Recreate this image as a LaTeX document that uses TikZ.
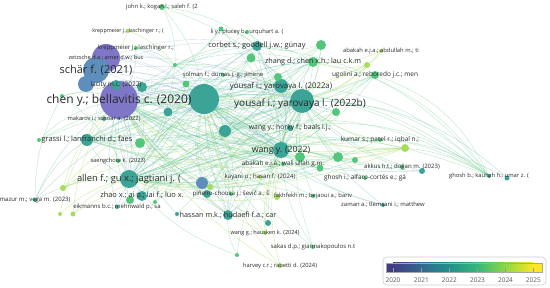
\documentclass[tikz,border=0pt]{standalone}
\usepackage{fontspec}
\setmainfont{Open Sans}
\pgfdeclarelayer{bgzero}
\pgfdeclarelayer{edges}
\pgfsetlayers{bgzero,edges,main}
\definecolor{cP}{HTML}{7E76C6}
\definecolor{cB}{HTML}{5E8FBC}
\definecolor{cT}{HTML}{3BA497}
\definecolor{cTG}{HTML}{3DB58B}
\definecolor{cG}{HTML}{52C77C}
\definecolor{cY}{HTML}{A6DD5C}
\definecolor{labc}{HTML}{2A2A2A}
\definecolor{vA}{HTML}{413D85}
\definecolor{vB}{HTML}{31688E}
\definecolor{vC}{HTML}{21918C}
\definecolor{vD}{HTML}{35B779}
\definecolor{vE}{HTML}{90D743}
\definecolor{vF}{HTML}{FDE725}
\tikzset{
  vn/.style={circle, inner sep=0pt, draw=none},
  lbl/.style={inner sep=0pt, text=labc, font=\fontsize{#1}{#1}\selectfont},
  eT/.style={draw=cT, opacity=.33, line width=.4pt},
  eG/.style={draw=cG, opacity=.38, line width=.4pt},
  eY/.style={draw=cY, opacity=.5, line width=.4pt},
  eB/.style={draw=cB, opacity=.28, line width=.4pt},
  legtxt/.style={inner sep=0pt, text=black!65, font=\fontsize{6.5}{6.5}\selectfont}
}
\newcommand\mkdot[5]{\node[vn, fill=#5, minimum size=#4pt] (#1) at (#2,#3) {};}
\newcommand\mklab[3]{\node[lbl=#2] (#1-l) at (#1) {#3};}
\begin{document}
\begin{tikzpicture}[x=1pt,y=-1pt]
\begin{pgfonlayer}{bgzero}
\fill[white] (0,0) rectangle (550,288);
\end{pgfonlayer}
\useasboundingbox (0,0) rectangle (550,288);
% ---------- nodes (circles) ----------
\mkdot{bigt}{204}{99}{30}{cT}
\mkdot{chen}{119}{100}{38}{cP}
\mkdot{zet}{106}{58}{28}{cP}
\mkdot{schar}{96}{70}{26}{cB}
\mkdot{bl1}{86}{84}{16}{cB}
\mkdot{lac}{116}{85}{10}{cT}
\mkdot{t142}{142}{87}{10}{cT}
\mkdot{yb}{302}{101}{24}{cT}
\mkdot{ya}{281}{86}{14}{cT}
\mkdot{g278}{278}{77}{8}{cG}
\mkdot{wy}{281}{150}{16}{cT}
\mkdot{hk}{290}{128}{6}{cT}
\mkdot{t225}{225}{131}{12}{cT}
\mkdot{al}{129}{179}{18}{cT}
\mkdot{gr}{87}{140}{12}{cT}
\mkdot{g140}{140}{143}{10}{cG}
\mkdot{cb}{257}{46}{10}{cT}
\mkdot{g321}{321}{45}{10}{cG}
\mkdot{zh}{313}{62}{10}{cG}
\mkdot{g251}{251}{58}{9}{cG}
\mkdot{jo}{162}{7}{6}{cG}
\mkdot{li}{247}{32}{4}{cG}
\mkdot{g221}{221}{29}{5}{cG}
\mkdot{kr1}{128}{31}{4}{cY}
\mkdot{kr2}{136}{48}{4}{cG}
\mkdot{ab1}{381}{51}{4}{cY}
\mkdot{g367}{367}{65}{6}{cY}
\mkdot{ug}{375}{75}{8}{cG}
\mkdot{so}{223}{75}{4}{cG}
\mkdot{mk}{104}{119}{4}{cT}
\mkdot{sa}{118}{161}{4}{cG}
\mkdot{zo}{142}{196}{10}{cT}
\mkdot{g130}{130}{200}{8}{cG}
\mkdot{mz}{35}{200}{4}{cT}
\mkdot{ei}{117}{207}{4}{cT}
\mkdot{ha}{228}{215}{10}{cT}
\mkdot{t268}{268}{223}{6}{cT}
\mkdot{pi}{231}{194}{4}{cG}
\mkdot{t207}{207}{194}{8}{cT}
\mkdot{fa}{313}{196}{4}{cG}
\mkdot{y277}{277}{197}{6}{cY}
\mkdot{za}{383}{205}{4}{cT}
\mkdot{wg}{265}{233}{4}{cY}
\mkdot{sk}{313}{247}{4}{cG}
\mkdot{hv}{280}{266}{4}{cY}
\mkdot{ku}{380}{140}{4}{cG}
\mkdot{y405}{405}{148}{8}{cY}
\mkdot{gi}{365}{178}{4}{cG}
\mkdot{ak}{402}{167}{4}{cG}
\mkdot{t422}{422}{171}{6}{cT}
\mkdot{gb}{489}{176}{4}{cT}
\mkdot{t507}{507}{178}{5}{cT}
\mkdot{aw}{283}{164}{4}{cG}
\mkdot{ka}{260}{177}{4}{cY}
\mkdot{b202}{202}{183}{12}{cB}
\mkdot{y210}{210}{187}{6}{cY}
\mkdot{hub}{175}{65}{4}{cG}
\mkdot{g62}{62}{96}{4}{cG}
\mkdot{y63}{63}{188}{6}{cY}
\mkdot{g39}{39}{140}{4}{cG}
\mkdot{y60}{60}{214}{4}{cY}
\mkdot{y73}{73}{214}{5}{cY}
\mkdot{g155}{155}{202}{4}{cG}
\mkdot{t177}{177}{214}{4}{cT}
\mkdot{g237}{237}{255}{4}{cG}
\mkdot{g300}{300}{157}{10}{cG}
\mkdot{g338}{338}{157}{10}{cG}
\mkdot{g355}{355}{160}{6}{cG}
\mkdot{g320}{320}{168}{7}{cG}
\mkdot{g336}{336}{112}{8}{cG}
\mkdot{t170}{168}{112}{9}{cT}
\mkdot{g185}{186}{84}{7}{cG}
% ---------- edges ----------
\begin{pgfonlayer}{edges}
\foreach \s/\ts in {chen/{bigt,yb,ya,wy,hk,t225,al,gr,cb,zh,ha,lac,t142,g336,t170,g185},
  schar/{bigt,yb,wy,al,gr,cb,t170,hk},
  zet/{bigt,yb,hub,cb,g185},
  bl1/{bigt,al,wy,t225}}
  \foreach \t in \ts \draw[eB] (\s) to[bend left=14] (\t);
\foreach \s/\ts in {bigt/{yb,ya,wy,hk,t225,al,gr,cb,zh,ha,g336,t170},
  yb/{ya,wy,hk,t225,al,gr,cb,zh,ha,t170,g185},
  ya/{wy,hk,al,cb,zh,t170},
  wy/{hk,t225,al,gr,ha,zh,t170,g185},
  hk/{al,t225,cb,gr},
  t225/{al,ha,cb,zh},
  al/{gr,ha,zo,cb},
  gr/{ha,t170},
  cb/{zh},
  t170/{al,ha,zh,cb},
  lac/{yb,wy,al},
  t142/{yb,wy,al,bigt},
  mk/{yb,wy,bigt},
  ei/{chen,bigt,wy},
  t207/{chen,bigt,yb,wy},
  t268/{bigt,chen,yb},
  t177/{chen,wy},
  za/{yb,wy,bigt},
  t422/{bigt,yb,chen},
  mz/{chen,al,gr,g62,bigt},
  b202/{chen,bigt,yb,wy}}
  \foreach \t in \ts \draw[eT] (\s) to[bend left=14] (\t);
\foreach \s/\ts in {chen/{bigt,yb,wy,al,ha,zh},
  bigt/{yb,wy,al,gr,ha},
  yb/{wy,al,gr,ha,t225},
  wy/{al,gr,cb}}
  \foreach \t in \ts \draw[eT] (\s) to[bend right=9] (\t);
\foreach \s/\ts in {g278/{chen,bigt,yb,wy,al},
  g140/{chen,bigt,yb,wy,hk},
  g321/{chen,bigt,yb,wy,cb,al},
  zh/{al,hk,gr},
  g251/{chen,yb,wy,al,gr},
  jo/{hub,cb,bigt,yb},
  g221/{hub,chen,cb,wy},
  li/{hub,cb,yb},
  kr2/{hub,chen,bigt},
  hub/{chen,bigt,yb,wy,al,gr,cb,zh,ya},
  ug/{yb,wy,bigt,chen,al,gr},
  so/{chen,bigt,yb},
  sa/{chen,al,wy},
  g130/{chen,bigt,wy,yb,al},
  zo/{bigt,yb,wy},
  g62/{chen,bigt,al},
  g39/{chen,gr,bigt,yb},
  g155/{bigt,wy,yb},
  g237/{ha,wy,al},
  g300/{chen,bigt,al,yb},
  g338/{chen,bigt,al,yb,gr},
  g355/{bigt,chen,yb,al},
  g320/{bigt,al,chen},
  g336/{yb,al,gr,wy},
  g185/{al,ha,gr},
  gi/{chen,bigt,yb},
  ku/{chen,bigt,al,yb},
  ak/{bigt,wy,yb},
  fa/{bigt,yb,chen},
  sk/{bigt,yb,wy},
  aw/{chen,bigt,al},
  pi/{chen,bigt,yb}}
  \foreach \t in \ts \draw[eG] (\s) to[bend left=14] (\t);
\foreach \s/\ts in {kr1/{hub,zet},
  g367/{yb,wy,zh,bigt,chen},
  ab1/{yb,zh,g367},
  y63/{chen,al,yb,wy,bigt},
  y60/{al,chen},
  y73/{al,chen,wy},
  y405/{chen,bigt,al,wy,yb,gr,hk,t225},
  y277/{chen,bigt,wy,yb,al},
  wg/{chen,bigt,yb,wy},
  hv/{bigt,wy,chen},
  ka/{chen,bigt,al},
  y210/{chen,bigt,yb,al}}
  \foreach \t in \ts \draw[eY] (\s) to[bend left=14] (\t);
\foreach \s in {yb,ya,wy,hk,bigt,chen,zh,ug,cb,al,t225,g338}
  \draw[eG] (\s) to[bend left=22] (gb);
\foreach \s in {yb,wy}
  \draw[eT] (\s) to[bend left=20] (t507);
\end{pgfonlayer}
% ---------- labels ----------
\mklab{chen}{12}{chen y.; bellavitis c. (2020)}
\mklab{schar}{11}{schär f. (2021)}
\mklab{zet}{5.6}{zetzsche d.a.; arner d.w.; buc}
\mklab{lac}{6.5}{lacity m.c. (2022)}
\node[lbl=10] (yb-l) at (300,104) {yousaf i.; yarovaya l. (2022b)};
\mklab{ya}{7.8}{yousaf i.; yarovaya l. (2022a)}
\mklab{wy}{8.7}{wang y. (2022)}
\mklab{hk}{6.8}{wang y.; horky f.; baals l.j.;}
\mklab{al}{9.3}{allen f.; gu x.; jagtiani j. (}
\mklab{gr}{7.4}{grassi l.; lanfranchi d.; faes}
\mklab{cb}{7.4}{corbet s.; goodell j.w.; günay}
\mklab{zh}{7.2}{zhang d.; chen x.h.; lau c.k.m}
\mklab{jo}{5.8}{john k.; kogan l.; saleh f. (2}
\mklab{li}{5.8}{li y.; plucey b.; urquhart a. (}
\mklab{kr1}{5.4}{kreppmeier j.; laschinger r.; (}
\mklab{kr2}{6.0}{kreppmeier j.; laschinger r.;}
\mklab{ab1}{5.8}{abakah e.j.a.; abdullah m.; ti}
\mklab{ug}{6.5}{ugolini a.; reboredo j.c.; men}
\mklab{so}{5.9}{şolman f.; dumas j.-g.; jimene}
\mklab{mk}{5.7}{makarov i.; schoar a. (2022)}
\mklab{sa}{5.7}{saengchote k. (2023)}
\mklab{zo}{7.4}{zhao x.; ai p.; lai f.; luo x.}
\mklab{mz}{6}{mazur m.; vega m. (2023)}
\mklab{ei}{6}{eikmanns b.c.; mehnwald p.; sa}
\mklab{ha}{7.3}{hassan m.k.; hudaefi f.a.; car}
\mklab{pi}{6.1}{piñeiro-chousa j.; šević a.; š}
\mklab{fa}{5.8}{fakhfekh m.; bejaoui a.; bariv}
\mklab{za}{5.9}{zaman a.; tlemsani i.; matthew}
\mklab{wg}{5.6}{wang g.; hausken k. (2024)}
\mklab{sk}{6}{sakas d.p.; giannakopoulos n.t}
\mklab{hv}{5.8}{harvey c.r.; rabetti d. (2024)}
\mklab{ku}{6.5}{kumar s.; patel r.; iqbal n.;}
\mklab{gi}{6.4}{ghosh i.; alfaro-cortés e.; gá}
\mklab{ak}{6}{akkus h.t.; doğan m. (2023)}
\mklab{gb}{5.8}{ghosh b.; kaunzh h.; umar z. (}
\mklab{aw}{6.3}{abakah e.j.a.; wali ullah g.m.}
\mklab{ka}{6.1}{kayani u.; hasan f. (2024)}
% ---------- legend ----------
\node[draw=black!20, fill=white, rounded corners=4pt, line width=.6pt, minimum width=163pt, minimum height=28pt, inner sep=0pt] (legbox) at (464.5,271) {};
\fill[vA] (386,263) rectangle (393,272);
\shade[left color=vA, right color=vB] (393,263) rectangle (421.4,272);
\shade[left color=vB, right color=vC] (421.3,263) rectangle (449.4,272);
\shade[left color=vC, right color=vD] (449.3,263) rectangle (477.6,272);
\shade[left color=vD, right color=vE] (477.5,263) rectangle (505.6,272);
\shade[left color=vE, right color=vF] (505.5,263) rectangle (533.4,272);
\fill[vF] (533.3,263) rectangle (542,272);
\draw[black!35, line width=.5pt] (386,263) rectangle (542,272);
\foreach \x/\yr in {393/2020,421.3/2021,449.3/2022,477.5/2023,505.5/2024,533.3/2025} {
  \draw[black!40, line width=.5pt] (\x,268.5) -- (\x,272);
  \node[legtxt] (lg\yr) at (\x,280) {\yr};
}
\end{tikzpicture}
\end{document}
